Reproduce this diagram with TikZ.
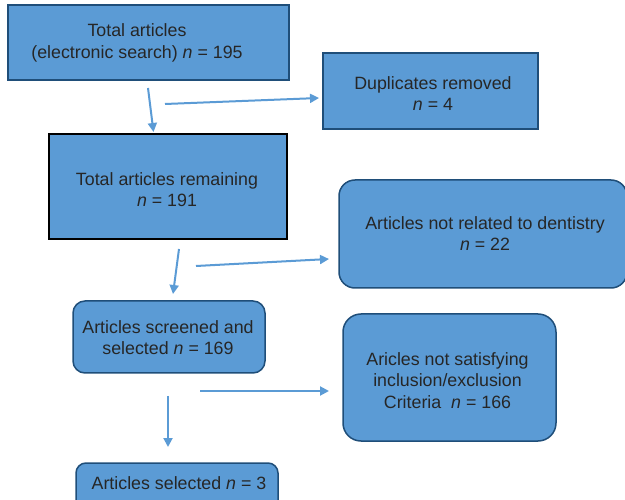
\documentclass[tikz,border=0pt]{standalone}
\usepackage{fontspec}
\setmainfont{Liberation Sans}
\usetikzlibrary{arrows.meta}
\definecolor{boxfill}{HTML}{5B9BD5}
\definecolor{boxline}{HTML}{1F4E79}
\definecolor{arrowc}{HTML}{5B9BD5}
\definecolor{txt}{HTML}{262626}
\tikzset{
  sqbox/.style={draw=boxline, fill=boxfill, line width=1.5pt, inner sep=0pt},
  rdbox/.style={sqbox, rounded corners=14pt},
  lbl/.style={text=txt, font=\fontsize{17.8}{21.5}\selectfont, align=center, inner sep=0pt},
  flow/.style={draw=arrowc, line width=2pt, -{Triangle[length=9pt,width=9pt]}}
}
\begin{document}
\begin{tikzpicture}[x=1pt,y=-1pt]
\useasboundingbox (0,0) rectangle (625,500);
% boxes
\node[sqbox, minimum width=281pt, minimum height=75pt] (b1) at (148.5,42.5) {};
\node[sqbox, minimum width=215pt, minimum height=76pt] (b2) at (430.5,91) {};
\node[draw=black, fill=boxfill, line width=2.5pt, inner sep=0pt, minimum width=238pt, minimum height=105pt] (b3) at (168,186.5) {};
\node[rdbox, minimum width=288pt, minimum height=108pt, rounded corners=16pt] (b4) at (483,234) {};
\node[rdbox, minimum width=192pt, minimum height=72pt, rounded corners=12pt] (b5) at (169,337) {};
\node[rdbox, minimum width=213pt, minimum height=127pt, rounded corners=18pt] (b6) at (449.5,377.5) {};
\node[rdbox, minimum width=202pt, minimum height=50pt, rounded corners=10pt] (b7) at (177,488) {};
% texts
\node[lbl] (t1) at (137,43) {Total articles\\(electronic search) \textit{n} = 195};
\node[lbl] (t2) at (433,93.5) {Duplicates removed\\\textit{n} = 4};
\node[lbl] (t3) at (167,189.5) {Total articles remaining\\\textit{n} = 191};
\node[lbl] (t4) at (485,233.5) {Articles not related to dentistry\\\textit{n} = 22};
\node[lbl] (t5) at (168,337.5) {Articles screened and\\selected \textit{n} = 169};
\node[lbl] (t6) at (447.5,380.5) {Aricles not satisfying\\inclusion/exclusion\\Criteria~ \textit{n} = 166};
\node[lbl] (t7) at (179,483.5) {Articles selected \textit{n} = 3};
% arrow end points
\coordinate (a1s) at (148,88);  \coordinate (a1e) at (153.5,132);
\coordinate (a2s) at (165,104); \coordinate (a2e) at (319,98);
\coordinate (a3s) at (179,249); \coordinate (a3e) at (173,294);
\coordinate (a4s) at (196,266); \coordinate (a4e) at (329,259);
\coordinate (a5s) at (200,391); \coordinate (a5e) at (329,391);
\coordinate (a6s) at (168,396); \coordinate (a6e) at (168,447);
\draw[flow] (a1s) -- (a1e);
\draw[flow] (a2s) -- (a2e);
\draw[flow] (a3s) -- (a3e);
\draw[flow] (a4s) -- (a4e);
\draw[flow] (a5s) -- (a5e);
\draw[flow] (a6s) -- (a6e);
\end{tikzpicture}
\end{document}
